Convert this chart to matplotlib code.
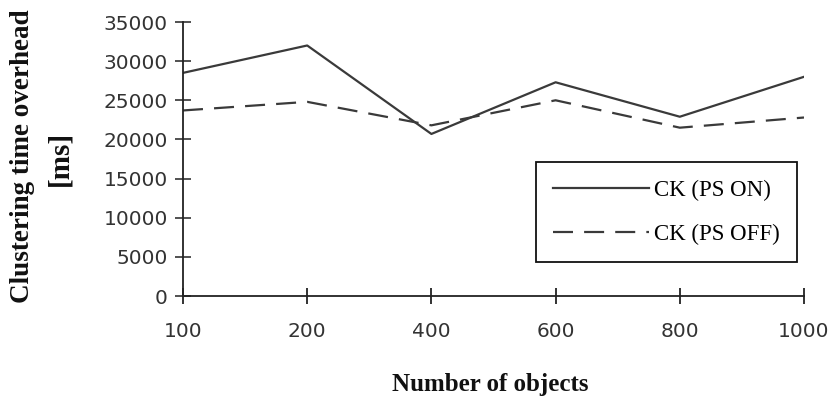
import matplotlib
matplotlib.use("Agg")
import matplotlib.pyplot as plt

# Data
categories = ["100", "200", "400", "600", "800", "1000"]
ps_on = [28500, 32000, 20700, 27300, 22900, 28000]
ps_off = [23700, 24800, 21800, 25000, 21500, 22800]
y_ticks = [0, 5000, 10000, 15000, 20000, 25000, 30000, 35000]

fig = plt.figure(figsize=(8.32, 4.04), dpi=100)
ax = fig.add_axes([183 / 832, 1 - 296 / 404, (804 - 183) / 832, (296 - 22) / 404])

x = list(range(len(categories)))
line_col = "#3a3a3a"
ax.plot(x, ps_on, color=line_col, lw=1.6, label="CK (PS ON)")
ax.plot(x, ps_off, color=line_col, lw=1.6, dashes=(9, 5), label="CK (PS OFF)")

ax.set_xlim(0, len(categories) - 1)
ax.set_ylim(0, 35000)
ax.set_xticks(x)
ax.set_xticklabels(categories)
ax.set_yticks(y_ticks)
ax.set_yticklabels([str(v) for v in y_ticks])

for side in ("top", "right"):
    ax.spines[side].set_visible(False)
for side in ("left", "bottom"):
    ax.spines[side].set_color("#222222")
    ax.spines[side].set_linewidth(1.3)
ax.spines["bottom"].set_zorder(0)

ax.tick_params(axis="x", direction="inout", length=11, width=1.3, color="#222222",
               pad=13, labelcolor="#333333")
ax.tick_params(axis="y", direction="inout", length=12, width=1.1, color="#222222",
               pad=5, labelcolor="#333333")
for lbl in ax.get_xticklabels() + ax.get_yticklabels():
    lbl.set_fontfamily("DejaVu Sans")
    lbl.set_fontsize(14.5)

leg = ax.legend(loc="lower right", bbox_to_anchor=((797 - 183) / 621, (296 - 262) / 274),
                frameon=True, fancybox=False, edgecolor="#111111", framealpha=1,
                prop={"family": "Liberation Serif", "size": 16.5},
                handlelength=4.2, handletextpad=0.2, borderpad=0.75, labelspacing=1.0,
                borderaxespad=0)
leg.get_frame().set_linewidth(1.3)

fig.text(23 / 832, 1 - 156 / 404, "Clustering time overhead", rotation=90,
         ha="center", va="center", fontfamily="Liberation Serif",
         fontweight="bold", fontsize=19.5, color="#111111")
fig.text(60 / 832, 1 - 158 / 404, "[ms]", rotation=90,
         ha="center", va="center", fontfamily="Liberation Serif",
         fontweight="bold", fontsize=21, color="#111111")
fig.text(490 / 832, 1 - 385 / 404, "Number of objects", ha="center", va="center",
         fontfamily="Liberation Serif", fontweight="bold", fontsize=18, color="#111111")

fig.savefig("out.png", dpi=100)
